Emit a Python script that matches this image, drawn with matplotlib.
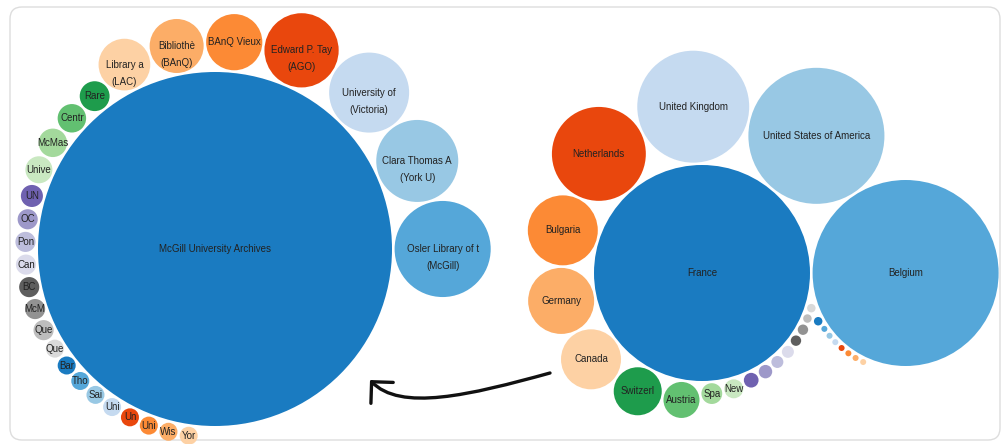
import math
import matplotlib
matplotlib.use("Agg")
import matplotlib.pyplot as plt
from matplotlib.patches import Circle, FancyBboxPatch, FancyArrowPatch
from matplotlib.path import Path

# ---------------- data ----------------
left_labels = ["McGill University Archives", "Osler Library of t", "Clara Thomas A",
               "University of", "Edward P. Tay", "BAnQ Vieux", "Bibliothè", "Library a",
               "Rare", "Centr", "McMas", "Unive", "UN", "OC", "Pon", "Can",
               "BC", "McM", "Que", "Que", "Bar", "Tho", "Sai", "Uni",
               "Un", "Uni", "Wis", "Yor"]
left_sublabels = ["", "(McGill)", "(York U)", "(Victoria)", "(AGO)", "", "(BAnQ)", "(LAC)"] + [""] * 20
left_values = [1547, 114, 83, 79, 68, 39, 36, 33, 11, 10, 10, 9,
               6, 5, 5, 5, 5, 5, 5, 4, 4, 4, 4, 4, 4, 4, 4, 4]

right_labels = ["France", "Belgium", "United States of America", "United Kingdom",
                "Netherlands", "Bulgaria", "Germany", "Canada", "Switzerl", "Austria",
                "Spa", "New"] + [""] * 16
right_values = [1296, 961, 514, 348, 245, 136, 121, 100, 64, 36, 12, 10,
                6, 5, 4, 4, 3, 3, 2, 2, 2, 1, 1, 1, 1, 1, 1, 1]

# category20c-like palette
palette = ['#1a7bc1', '#55a7d9', '#98c8e4', '#c5daf0',
           '#e9470d', '#fc8a35', '#fcad67', '#fdd1a4',
           '#1e9c4c', '#62c071', '#a3d99c', '#c9e8c1',
           '#6f61b0', '#9d98c9', '#bdbddc', '#dbdbeb',
           '#5e5e5e', '#929292', '#bdbdbd', '#d9d9d9']


# ---------------- d3 v3 style sibling packing ----------------
class Node:
    def __init__(self, r):
        self.r = r
        self.x = 0.0
        self.y = 0.0
        self.next = self
        self.prev = self


def place(a, b, c):
    db = a.r + c.r
    dx = b.x - a.x
    dy = b.y - a.y
    if db and (dx or dy):
        da = b.r + c.r
        dc = dx * dx + dy * dy
        da *= da
        db *= db
        x = 0.5 + (db - da) / (2 * dc)
        y = math.sqrt(max(0.0, 2 * da * (db + dc) - (db - dc) ** 2 - da * da)) / (2 * dc)
        c.x = a.x + x * dx + y * dy
        c.y = a.y + x * dy - y * dx
    else:
        c.x = a.x + db
        c.y = a.y


def intersects(a, b):
    dx = b.x - a.x
    dy = b.y - a.y
    dr = a.r + b.r
    return 0.999 * dr * dr > dx * dx + dy * dy


def insert(a, b):
    c = a.next
    a.next = b
    b.prev = a
    b.next = c
    c.prev = b


def splice(a, b):
    a.next = b
    b.prev = a


def pack(radii):
    nodes = [Node(r) for r in radii]
    n = len(nodes)
    a = nodes[0]
    a.x, a.y = -a.r, 0.0
    b = nodes[1]
    b.x, b.y = b.r, 0.0
    c = nodes[2]
    place(a, b, c)
    insert(a, c)
    a.prev = c
    insert(c, b)
    b = a.next
    i = 3
    guard = 0
    while i < n and guard < 10000:
        guard += 1
        c = nodes[i]
        place(a, b, c)
        isect = False
        s1 = s2 = 1
        j = b.next
        while j is not b:
            if intersects(j, c):
                isect = True
                break
            j = j.next
            s1 += 1
        if isect:
            k = a.prev
            while k is not j.prev:
                if intersects(k, c):
                    break
                k = k.prev
                s2 += 1
            if s1 < s2 or (s1 == s2 and b.r < a.r):
                b = j
                splice(a, b)
            else:
                a = k
                splice(a, b)
        else:
            insert(a, c)
            b = c
            i += 1
    return [(nd.x, nd.y) for nd in nodes]


def draw_pack(ax, values, labels, sublabels, center, big_r, pad, fs):
    k = big_r / math.sqrt(values[0])
    radii = [k * math.sqrt(v) for v in values]
    pos = pack([r + pad for r in radii])
    ox = center[0] - pos[0][0]
    oy = center[1] - pos[0][1]
    for idx, ((x, y), r) in enumerate(zip(pos, radii)):
        cx, cy = x + ox, y + oy
        ax.add_patch(Circle((cx, cy), r, facecolor=palette[idx % 20],
                            edgecolor='none', zorder=2))
        lab = labels[idx]
        sub = sublabels[idx] if sublabels else ""
        if lab:
            ax.text(cx, cy, lab, ha='center', va='center', fontsize=fs,
                    color='#222222', family=['Liberation Sans', 'DejaVu Sans'], zorder=3)
        if sub:
            ax.text(cx, cy + 17, sub, ha='center', va='center', fontsize=fs,
                    color='#222222', family=['Liberation Sans', 'DejaVu Sans'], zorder=3)


fig = plt.figure(figsize=(10.07, 4.44), dpi=100)
ax = fig.add_axes([0, 0, 1, 1])
ax.set_xlim(0, 1007)
ax.set_ylim(444, 0)
ax.axis('off')

frame = FancyBboxPatch((10, 7), 990, 433, boxstyle='round,pad=0,rounding_size=12',
                       facecolor='white', edgecolor='#dddddd', lw=1.0, zorder=1)
ax.add_patch(frame)

draw_pack(ax, left_values, left_labels, left_sublabels, (215, 249), 177, 1.3, 7.0)
draw_pack(ax, right_values, right_labels, None, (702, 273), 108, 1.3, 7.0)

# curved arrow from right chart to left chart
verts = [(550, 373), (470, 395), (400, 412), (370, 380)]
codes = [Path.MOVETO, Path.CURVE4, Path.CURVE4, Path.CURVE4]
arrow = FancyArrowPatch(path=Path(verts, codes),
                        arrowstyle='->,head_length=0.55,head_width=0.55',
                        mutation_scale=20, lw=2.4, color='#111111', zorder=4,
                        capstyle='round', joinstyle='round')
ax.add_patch(arrow)

fig.savefig('out.png', dpi=100)
